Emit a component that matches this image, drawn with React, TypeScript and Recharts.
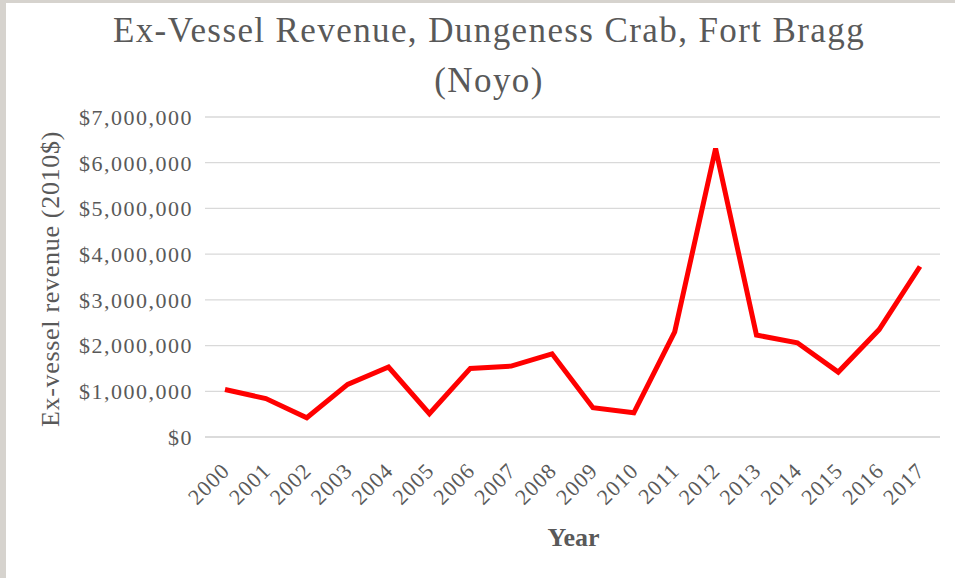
import { LineChart, Line, XAxis, YAxis, CartesianGrid } from "recharts";

const years = [
  "2000", "2001", "2002", "2003", "2004", "2005", "2006", "2007", "2008",
  "2009", "2010", "2011", "2012", "2013", "2014", "2015", "2016", "2017",
];

const revenue = [
  1040000, 840000, 420000, 1150000, 1530000, 510000, 1500000, 1550000, 1820000,
  640000, 530000, 2300000, 6310000, 2230000, 2060000, 1420000, 2350000, 3730000,
];

const yTicks = [0, 1000000, 2000000, 3000000, 4000000, 5000000, 6000000, 7000000];

const data = years.map((year, i) => ({ year, revenue: revenue[i] }));

const FONT = "'Liberation Serif', serif";
const TEXT = "#595959";

function money(v: number) {
  return "$" + v.toLocaleString("en-US");
}

function YearTick(props: any) {
  const { x, y, payload } = props;
  const ex = x + 6;
  const ey = y + 27;
  return (
    <text
      x={ex} y={ey} textAnchor="end" fill={TEXT}
      fontSize={22} fontFamily={FONT} style={{ letterSpacing: 1 }}
      transform={`rotate(-45, ${ex}, ${ey})`}
    >
      {payload.value}
    </text>
  );
}

export default function App() {
  return (
    <div
      style={{
        position: "absolute", left: 0, top: 0, width: 955, height: 578,
        background: "#ffffff", overflow: "hidden",
      }}
    >
      <div style={{ position: "absolute", left: 0, top: 0, width: 955, height: 3, background: "#d6d3ce" }} />
      <div style={{ position: "absolute", left: 0, top: 0, width: 6, height: 578, background: "#d6d3ce" }} />

      <div
        style={{
          position: "absolute", left: 0, top: 6, width: 978, textAlign: "center",
          fontFamily: FONT, fontSize: 35, color: TEXT, lineHeight: "50px",
          letterSpacing: 1.4,
        }}
      >
        Ex-Vessel Revenue, Dungeness Crab, Fort Bragg
        <br />
        (Noyo)
      </div>

      <div style={{ position: "absolute", left: 51, top: 279, width: 0, height: 0 }}>
        <div
          style={{
            position: "absolute", left: -200, top: -15, width: 400, textAlign: "center",
            transform: "rotate(-90deg)", fontFamily: FONT, fontSize: 26, color: TEXT,
            whiteSpace: "nowrap", lineHeight: "30px", letterSpacing: 0.7,
          }}
        >
          Ex-vessel revenue (2010$)
        </div>
      </div>

      <div
        style={{
          position: "absolute", left: 473, top: 523, width: 201, textAlign: "center",
          fontFamily: FONT, fontSize: 26, fontWeight: "bold", color: TEXT,
          lineHeight: "30px",
        }}
      >
        Year
      </div>

      <div style={{ position: "absolute", left: 0, top: 0 }}>
        <LineChart
          width={955} height={578} data={data}
          margin={{ top: 117, right: 15, bottom: 0, left: 0 }}
        >
          <CartesianGrid vertical={false} stroke="#d9d9d9" strokeWidth={1.3} />
          <XAxis
            dataKey="year" height={141} interval={0}
            padding={{ left: 20, right: 20 }}
            axisLine={{ stroke: "#d9d9d9", strokeWidth: 1.3 }} tickLine={false}
            tick={<YearTick />}
          />
          <YAxis
            width={205} domain={[0, 7000000]} ticks={yTicks}
            axisLine={false} tickLine={false} tickFormatter={money}
            tick={{ fill: TEXT, fontSize: 22, fontFamily: FONT, style: { letterSpacing: 1.5 } }}
            tickMargin={6}
          />
          <Line
            type="linear" dataKey="revenue" stroke="#ff0000" strokeWidth={5}
            dot={false} isAnimationActive={false}
          />
        </LineChart>
      </div>
    </div>
  );
}
